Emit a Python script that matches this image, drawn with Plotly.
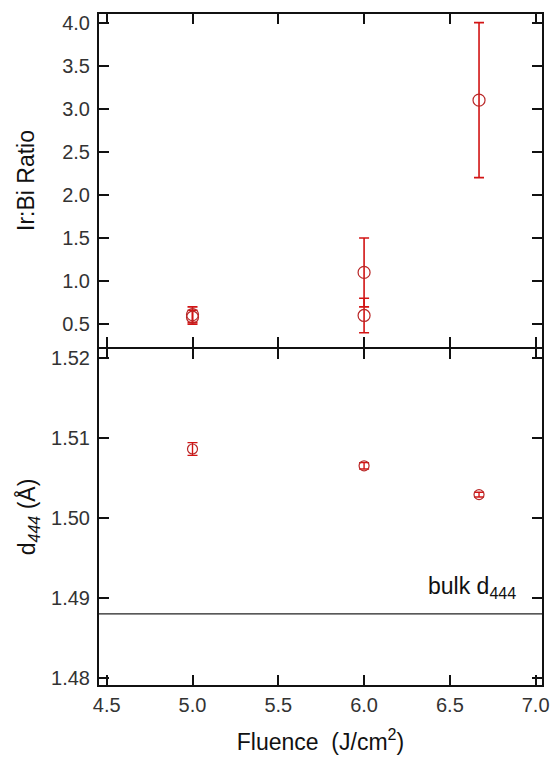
import plotly.graph_objects as go

# Top panel: Ir:Bi ratio
ratio_fluence = [5.0, 5.0, 6.0, 6.0, 6.67]
ratio_values = [0.61, 0.58, 1.1, 0.6, 3.1]
ratio_errors = [0.09, 0.08, 0.4, 0.2, 0.9]

# Bottom panel: d444 spacing
d_fluence = [5.0, 6.0, 6.67]
d_values = [1.5086, 1.5065, 1.5029]
d_errors = [0.0008, 0.0004, 0.0003]

bulk_d444 = 1.488

x_ticks = [4.5, 5.0, 5.5, 6.0, 6.5, 7.0]
ratio_ticks = [0.5, 1.0, 1.5, 2.0, 2.5, 3.0, 3.5, 4.0]
d_ticks = [1.48, 1.49, 1.50, 1.51, 1.52]

RED = "rgb(210,20,20)"
MRED = "rgb(185,40,40)"
FONT = "Liberation Sans, Arial, sans-serif"
PLOT_H = 671
SPLIT = 337 / PLOT_H

fig = go.Figure()

fig.add_trace(go.Scatter(
    x=ratio_fluence, y=ratio_values, mode="markers", xaxis="x", yaxis="y",
    marker=dict(symbol="circle-open", size=12, color=MRED, line=dict(width=1.2)),
    error_y=dict(type="data", array=ratio_errors, visible=True, color=RED,
                 thickness=1.6, width=5),
    showlegend=False))

fig.add_trace(go.Scatter(
    x=d_fluence, y=d_values, mode="markers", xaxis="x2", yaxis="y2",
    marker=dict(symbol="circle-open", size=10, color=MRED, line=dict(width=1.2)),
    error_y=dict(type="data", array=d_errors, visible=True, color=RED,
                 thickness=1.4, width=5),
    showlegend=False))

fig.add_shape(type="line", xref="x2 domain", yref="y2", x0=0, x1=1,
              y0=bulk_d444, y1=bulk_d444, line=dict(color="#222", width=1.3))

fig.add_annotation(x=6.9, y=bulk_d444 + 0.0012, xref="x2", yref="y2",
                   text="bulk d<sub>444</sub>", showarrow=False,
                   xanchor="right", yanchor="bottom",
                   font=dict(family=FONT, size=23, color="#111"))

axis_common = dict(showline=True, linecolor="#111", linewidth=2, mirror="allticks",
                   ticks="inside", ticklen=10, tickwidth=1.5, tickcolor="#111",
                   showgrid=False, zeroline=False, automargin=False,
                   tickfont=dict(family=FONT, size=20, color="#333"))

title_font = dict(family=FONT, size=23, color="#111")

fig.update_layout(
    width=552, height=759,
    margin=dict(l=99, r=10, t=14, b=74),
    plot_bgcolor="white", paper_bgcolor="white",
    xaxis=dict(**axis_common, range=[4.455, 7.037], tickvals=x_ticks,
               showticklabels=False, anchor="y", matches="x2"),
    xaxis2=dict(**axis_common, range=[4.455, 7.037], tickvals=x_ticks,
                ticktext=[f"{v:.1f}" for v in x_ticks], anchor="y2",
                ticklabelstandoff=1,
                title=dict(text="Fluence&nbsp; (J/cm<sup>2</sup>)", font=title_font,
                           standoff=19)),
    yaxis=dict(**axis_common, domain=[SPLIT + 1 / PLOT_H, 1], anchor="x",
               range=[0.234, 4.10], tickvals=ratio_ticks,
               ticktext=[f"{v:.1f}" for v in ratio_ticks], ticklabelstandoff=3,
               title=dict(text="Ir:Bi Ratio", font=title_font, standoff=21)),
    yaxis2=dict(**axis_common, domain=[0, SPLIT - 1 / PLOT_H], anchor="x2",
                range=[1.4791, 1.5211], tickvals=d_ticks,
                ticktext=[f"{v:.2f}" for v in d_ticks], ticklabelstandoff=3,
                title=dict(text="d<sub><i>444</i></sub> (Å)", font=title_font,
                           standoff=9)),
)

fig.write_html("out.html", config={"displayModeBar": False},
               post_script="document.body.style.margin='0px';document.body.style.overflow='hidden';")
